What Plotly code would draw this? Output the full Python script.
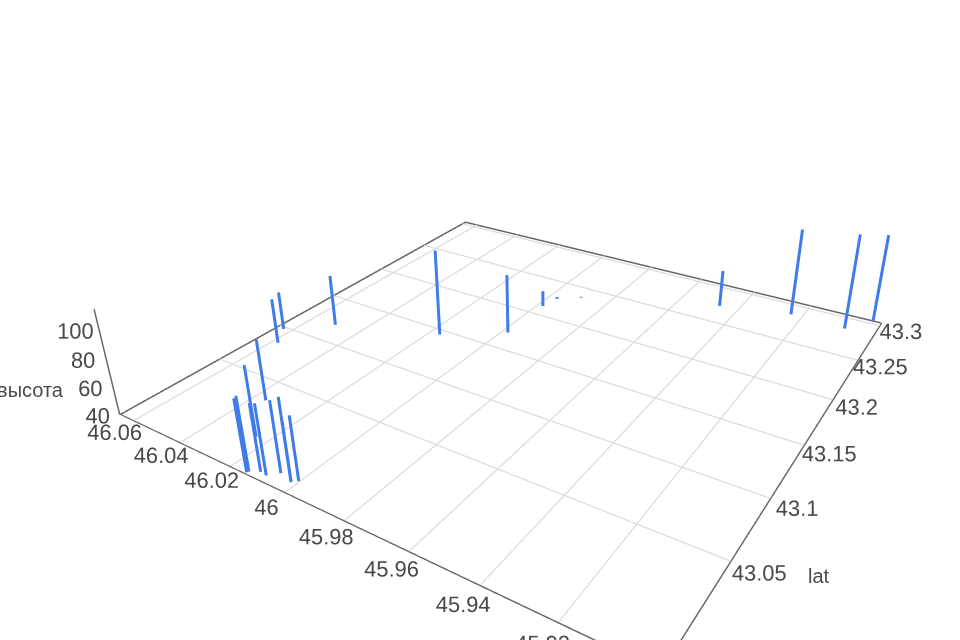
import plotly.graph_objects as go

# one vertical stick per station, from the floor up to its height
lat = [42.981, 42.982, 42.985, 42.9845, 43.0048, 43.0325, 42.9896, 42.9872, 42.9878, 42.9898, 43.083,
       43.0978, 43.1195, 43.1447, 43.1694, 43.2118, 43.2259, 43.2358, 43.273, 43.2858, 43.2848, 43.304]
lon = [46.0145, 46.0142, 46.0115, 46.0092, 46.0243, 46.0357, 46.0066, 46.0017, 46.002, 46.0003, 46.0578,
       46.0631, 46.0503, 46.0163, 45.998, 45.9981, 45.9968, 45.99, 45.9464, 45.9237, 45.9057, 45.8992]
height = [83.6, 84.9, 80.3, 82.2, 84.1, 78.3, 83.0, 90.4, 73.9, 77.9, 68.3,
          63.3, 73.4, 99.8, 79.4, 46.1, 34.8, 34.1, 62.6, 101.6, 107.0, 101.6]

lat_range = [42.98, 43.305]
lon_range = [45.8965, 46.0665]
z_range = [33, 108]
lat_ticks = [43.05, 43.1, 43.15, 43.2, 43.25, 43.3]
lon_ticks = [45.92, 45.94, 45.96, 45.98, 46, 46.02, 46.04, 46.06]
z_ticks = [40, 60, 80, 100]

# lines right on the box limits get clipped, so lift the floor a little
floor = z_range[0] + 0.3

xs, ys, zs = [], [], []
for a, b, h in zip(lat, lon, height):
    xs += [a, a, None]
    ys += [b, b, None]
    zs += [floor, h, None]

# grid only on the floor, the walls stay empty
gx, gy, gz = [], [], []
for t in lat_ticks:
    gx += [t, t, None]
    gy += [lon_range[0], lon_range[1], None]
    gz += [floor, floor, None]
for t in lon_ticks:
    gx += [lat_range[0], lat_range[1], None]
    gy += [t, t, None]
    gz += [floor, floor, None]

fig = go.Figure()
fig.add_trace(go.Scatter3d(x=gx, y=gy, z=gz, mode="lines", line=dict(color="#dcdcdc", width=2.5),
                           hoverinfo="skip", showlegend=False))
# back edges of the floor
fig.add_trace(go.Scatter3d(x=[lat_range[0], lat_range[1] - 0.0008, lat_range[1] - 0.0008],
                           y=[lon_range[1] - 0.0006, lon_range[1] - 0.0006, lon_range[0]],
                           z=[floor] * 3, mode="lines", line=dict(color="#666666", width=3),
                           hoverinfo="skip", showlegend=False))
fig.add_trace(go.Scatter3d(x=xs, y=ys, z=zs, mode="lines", line=dict(color="#3f7ce8", width=6),
                           showlegend=False))

font_name = "Liberation Sans, Arial, sans-serif"
tick_font = dict(family=font_name, size=16.2, color="#4a4a4a")
title_font = dict(family=font_name, size=20, color="#4a4a4a")


def axis(rng, ticks, ticklen):
    return dict(title=dict(text=""), range=rng, tickvals=ticks, tickfont=tick_font, tickangle=0,
                showgrid=False, zeroline=False, showbackground=False, showspikes=False,
                showline=True, linecolor="#666666", linewidth=3,
                ticks="outside", tickcolor="#666666", ticklen=ticklen)


fig.update_layout(
    width=1014, height=777, margin=dict(l=0, r=0, t=0, b=0), paper_bgcolor="white",
    scene=dict(
        dragmode="orbit",
        xaxis=axis(lat_range, lat_ticks, 0),
        yaxis=axis(lon_range, lon_ticks, 0),
        zaxis=axis(z_range, z_ticks, 5),
        aspectmode="manual", aspectratio=dict(x=1, y=1, z=0.2),
        camera=dict(eye=dict(x=-1.2369, y=-0.7893, z=0.781), center=dict(x=-0.4972, y=-0.2895, z=0.327),
                    up=dict(x=0.0092, y=-0.0142, z=1)),
        annotations=[
            dict(x=lat_range[0], y=lon_range[1], z=60, text="высота", showarrow=False, font=title_font,
                 xanchor="right", xshift=-45, yshift=-12),
            dict(x=43.05, y=lon_range[0], z=z_range[0], text="lat", showarrow=False, font=title_font,
                 xshift=88, yshift=-14),
        ],
    ),
)

# the scene centre sits above the middle of the window, so pull the page up
fig.write_html("out.html", config=dict(displayModeBar=False),
               post_script="document.documentElement.style.overflow='hidden';document.body.style.margin='-89px 0 0 -2px';")
